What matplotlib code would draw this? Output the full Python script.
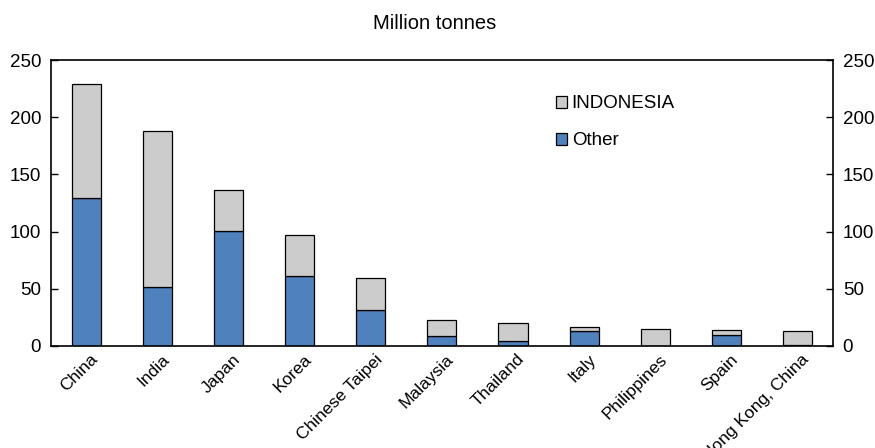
import matplotlib
matplotlib.use("Agg")
import matplotlib.pyplot as plt
import matplotlib.transforms as mtransforms
import numpy as np

plt.rcParams['font.family'] = ['Liberation Sans', 'DejaVu Sans']

countries = ["China", "India", "Japan", "Korea", "Chinese Taipei", "Malaysia",
             "Thailand", "Italy", "Philippines", "Spain", "Hong Kong, China"]
other = [129.6, 51.8, 100.5, 60.8, 31.7, 8.4, 4.0, 13.4, 0.0, 9.9, 1.0]
total = [228.7, 188.2, 136.4, 97.0, 59.4, 23.0, 20.4, 16.9, 14.9, 14.2, 13.1]
indonesia = [t - o for t, o in zip(total, other)]

fig = plt.figure(figsize=(8.75, 4.48), dpi=100)
ax = fig.add_axes([0.058, 0.228, 0.894, 0.638])
x = np.arange(len(countries))
w = 0.41
ax.bar(x, other, w, color="#4F81BD", edgecolor="black", linewidth=0.9, label="Other", zorder=2)
ax.bar(x, indonesia, w, bottom=other, color="#CCCCCC", edgecolor="black", linewidth=0.9,
       label="INDONESIA", zorder=2)

ax.set_xlim(-0.5, len(countries) - 0.5)
ax.set_ylim(0, 250)
ax.set_yticks(np.arange(0, 251, 50))
ax.tick_params(axis='y', direction='in', length=5, labelsize=13.5, right=True, labelright=True,
               width=1, pad=7)
ax.tick_params(axis='x', length=0, labelsize=12.5, pad=4)
ax.set_xticks(x)
ax.set_xticklabels(countries, rotation=45, ha='right', rotation_mode='anchor')
offset = mtransforms.ScaledTranslation(4 / 100, 0, fig.dpi_scale_trans)
for lab in ax.get_xticklabels():
    lab.set_transform(lab.get_transform() + offset)
for s in ax.spines.values():
    s.set_linewidth(1.2)

h, l = ax.get_legend_handles_labels()
leg = ax.legend(h[::-1], l[::-1], loc='upper left', bbox_to_anchor=(0.624, 0.935), frameon=False,
                fontsize=13.5, labelspacing=1.05, handlelength=0.6, handleheight=0.6,
                handletextpad=0.25)
fig.text(0.497, 0.948, "Million tonnes", ha='center', va='center', fontsize=14.5)
fig.savefig("out.png", dpi=100)
